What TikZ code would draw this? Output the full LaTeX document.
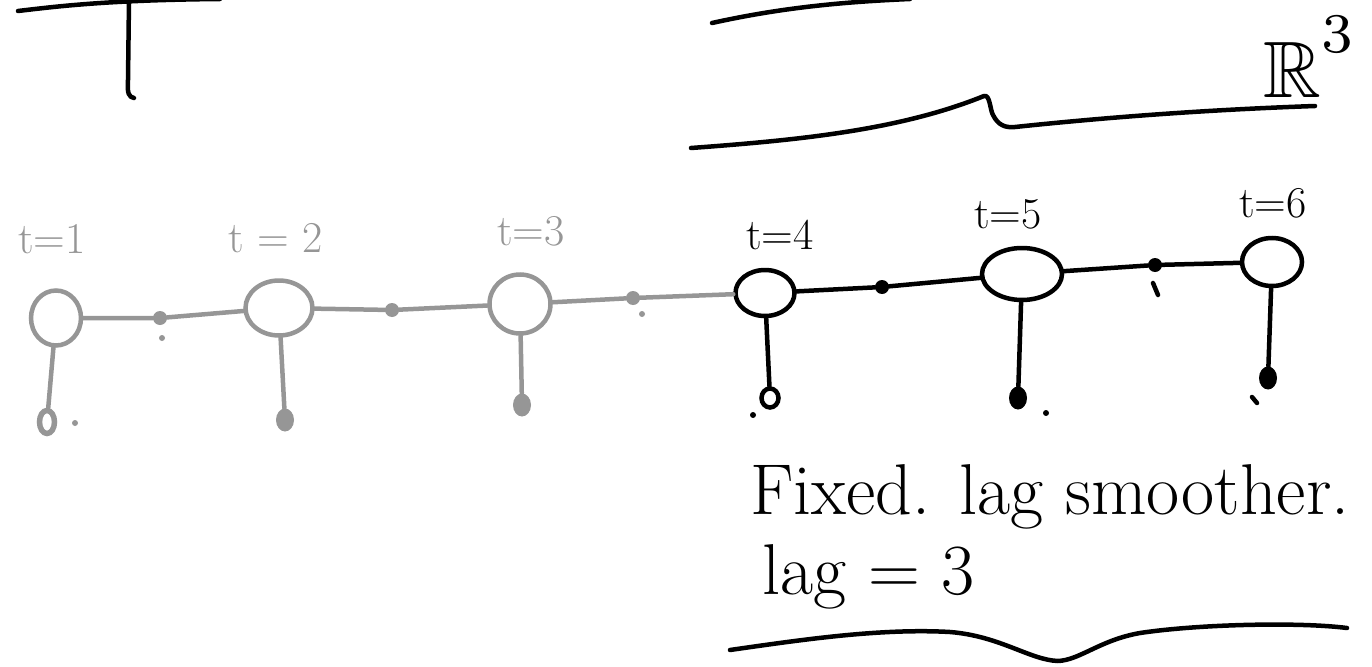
\documentclass[tikz,border=0pt]{standalone}
\usepackage{amssymb}
\usetikzlibrary{shapes.geometric}
\definecolor{pale}{RGB}{150,150,150}
\tikzset{
  ink/.style={line width=4.5pt, line cap=round, line join=round},
  state/.style={ellipse, draw, line width=4.5pt, inner sep=0pt},
  factor/.style={circle, fill, inner sep=0pt, minimum size=14pt},
  obs/.style={ellipse, fill, inner sep=0pt, minimum width=18pt, minimum height=23pt},
  hollow/.style={ellipse, draw, line width=5.5pt, inner sep=0pt, minimum width=15pt, minimum height=23pt},
  speck/.style={circle, fill, inner sep=0pt, minimum size=6pt},
  tlabel/.style={font=\fontsize{44}{48}\selectfont, inner sep=0pt},
  note/.style={font=\fontsize{72}{80}\selectfont, inner sep=0pt, anchor=base west},
}
\begin{document}
\begin{tikzpicture}[x=1pt,y=-1pt]
\useasboundingbox (0,0) rectangle (1372,666);

% remnants of an earlier sketch at the top
\draw[ink] (18,11) .. controls (60,6) and (110,0) .. (220,-1);
\draw[ink] (129,0) -- (128,80) .. controls (127,94) and (129,97) .. (134,98);
\draw[ink] (712,23) .. controls (780,8) and (840,2) .. (910,-1);
\draw[ink] (691,148) .. controls (800,140) and (900,130) .. (984,96)
  .. controls (990,94) and (990,110) .. (993,115)
  .. controls (998,125) and (1005,128) .. (1015,127)
  .. controls (1100,118) and (1200,110) .. (1315,106);
\node[scale=8, inner sep=0pt, anchor=base west] (R3) at (1262,98) {$\mathbb{R}^{\raisebox{2pt}{$\scriptstyle 3$}}$};

% labels
\node[tlabel, color=pale] (l1) at (52,239) {t=1};
\node[tlabel, color=pale] (l2) at (276,238) {t = 2};
\node[tlabel, color=pale] (l3) at (531,231) {t=3};
\node[tlabel] (l4) at (780,235) {t=4};
\node[tlabel] (l5) at (1008,214) {t=5};
\node[tlabel] (l6) at (1273,203) {t=6};

% hidden states
\node[state, color=pale, minimum width=50pt, minimum height=55pt] (s1) at (56,318) {};
\node[state, color=pale, minimum width=67pt, minimum height=55pt] (s2) at (279,308) {};
\node[state, color=pale, minimum width=61pt, minimum height=59pt] (s3) at (520,304) {};
\node[state, minimum width=59pt, minimum height=46pt] (s4) at (765,293) {};
\node[state, minimum width=80pt, minimum height=52pt] (s5) at (1022,274) {};
\node[state, minimum width=60pt, minimum height=48pt] (s6) at (1272,262) {};

% factors between states
\node[factor, color=pale] (f12) at (160,318) {};
\node[factor, color=pale] (f23) at (392,310) {};
\node[factor, color=pale] (f34) at (633,298) {};
\node[factor] (f45) at (882,287) {};
\node[factor] (f56) at (1155,265) {};

% observations
\node[hollow, color=pale] (o1) at (47,422) {};
\node[obs, color=pale] (o2) at (285,420) {};
\node[obs, color=pale] (o3) at (522,405) {};
\node[hollow, line width=4.5pt, minimum width=17pt, minimum height=19pt] (o4) at (770,398) {};
\node[obs] (o5) at (1018,398) {};
\node[obs] (o6) at (1268,378) {};

% small specks
\node[speck, color=pale] (p1) at (75,423) {};
\node[speck, color=pale] (p2) at (162,338) {};
\node[speck, color=pale] (p3) at (642,314) {};
\node[speck] (p4) at (753,415) {};
\node[speck] (p5) at (1046,413) {};
\coordinate (q1) at (1153,283);
\coordinate (q2) at (1158,295);
\draw[ink] (q1) -- (q2);
\coordinate (q3) at (1252,397);
\coordinate (q4) at (1257,403);
\draw[ink] (q3) -- (q4);

% chain
\draw[ink, color=pale] (s1) -- (f12) -- (s2);
\draw[ink, color=pale] (s2) -- (f23) -- (s3);
\draw[ink, color=pale] (s3) -- (f34) -- (s4);
\draw[ink] (s4) -- (f45) -- (s5);
\draw[ink] (s5) -- (f56) -- (s6);

% emissions
\draw[ink, color=pale] (s1) -- (o1);
\draw[ink, color=pale] (s2) -- (o2);
\draw[ink, color=pale] (s3) -- (o3);
\draw[ink] (s4) -- (o4);
\draw[ink] (s5) -- (o5);
\draw[ink] (s6) -- (o6);

% note
\node[note] (fix) at (750,514) {Fixed. lag smoother.};
\node[note] (lag) at (762,594) {lag = 3};
\draw[ink] (730,650) .. controls (800,640) and (880,628) .. (950,632)
  .. controls (1000,636) and (1030,660) .. (1058,661)
  .. controls (1080,660) and (1100,640) .. (1140,633)
  .. controls (1200,624) and (1300,622) .. (1347,628);
\end{tikzpicture}
\end{document}
